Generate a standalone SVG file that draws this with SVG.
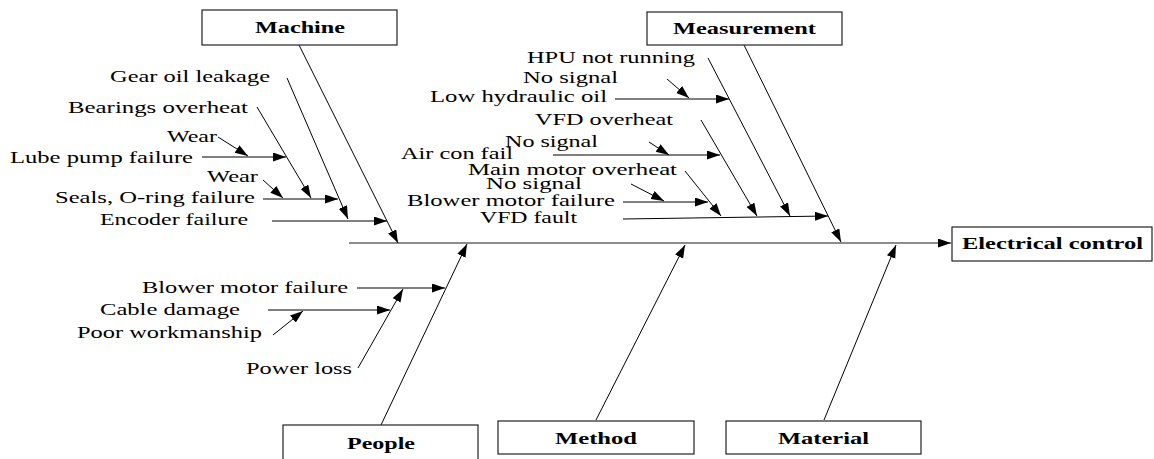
<svg xmlns="http://www.w3.org/2000/svg" width="1154" height="459" viewBox="0 0 1154 459">
<style>
text{font-family:"Liberation Serif","Times New Roman",serif;font-size:17px;fill:#000}
.b{font-weight:bold}
.box{fill:#fff;stroke:#222;stroke-width:1.2}
.c line{stroke:#000;stroke-width:1;marker-end:url(#ah)}
.c line.sp{stroke:#666;stroke-width:1.6}
</style>
<defs>
<marker id="ah" markerUnits="userSpaceOnUse" markerWidth="14" markerHeight="10" refX="13" refY="4.5" orient="auto">
<path d="M0,0 L13,4.5 L0,9 z" fill="#000"/>
</marker>
</defs>
<rect width="1154" height="459" fill="#fff"/>
<g id="connectors" class="c">
<line class="sp" x1="349" y1="243" x2="951" y2="243"/>
<line x1="299" y1="45" x2="398" y2="243"/>
<line x1="287" y1="78" x2="348" y2="219"/>
<line x1="257" y1="107" x2="311" y2="198"/>
<line x1="202" y1="157" x2="286" y2="157"/>
<line x1="218" y1="137" x2="248" y2="156"/>
<line x1="263" y1="199" x2="338" y2="199"/>
<line x1="263" y1="180" x2="283" y2="198"/>
<line x1="272" y1="221" x2="387" y2="221"/>
<line x1="744" y1="45" x2="841" y2="242"/>
<line x1="708" y1="58" x2="790" y2="216"/>
<line x1="623" y1="219" x2="828" y2="216"/>
<line x1="701" y1="120" x2="757" y2="216"/>
<line x1="685" y1="171" x2="721" y2="216"/>
<line x1="615" y1="99" x2="729" y2="99"/>
<line x1="667" y1="79" x2="689" y2="98"/>
<line x1="553" y1="155" x2="720" y2="155"/>
<line x1="649" y1="142" x2="669" y2="155"/>
<line x1="623" y1="202" x2="708" y2="202"/>
<line x1="631" y1="184" x2="664" y2="201"/>
<line x1="381" y1="425" x2="467" y2="244"/>
<line x1="357" y1="288" x2="445" y2="288"/>
<line x1="358" y1="368" x2="403" y2="289"/>
<line x1="268" y1="310" x2="390" y2="310"/>
<line x1="273" y1="335" x2="303" y2="311"/>
<line x1="596" y1="420" x2="685" y2="245"/>
<line x1="824" y1="420" x2="896" y2="245"/>
</g>
<g id="machine"><rect class="box" x="202" y="10" width="195" height="35"/><text class="b" x="255" y="33" textLength="90" lengthAdjust="spacingAndGlyphs">Machine</text></g>
<g id="measurement"><rect class="box" x="647" y="12" width="195" height="33"/><text class="b" x="673" y="34" textLength="143" lengthAdjust="spacingAndGlyphs">Measurement</text></g>
<g id="electrical-control"><rect class="box" x="952" y="227" width="200" height="34"/><text class="b" x="962" y="249" textLength="181" lengthAdjust="spacingAndGlyphs">Electrical control</text></g>
<g id="people"><rect class="box" x="283" y="425" width="195" height="45"/><text class="b" x="347" y="449" textLength="68" lengthAdjust="spacingAndGlyphs">People</text></g>
<g id="method"><rect class="box" x="498" y="421" width="196" height="33"/><text class="b" x="555" y="444" textLength="82" lengthAdjust="spacingAndGlyphs">Method</text></g>
<g id="material"><rect class="box" x="726" y="421" width="195" height="33"/><text class="b" x="778" y="444" textLength="91" lengthAdjust="spacingAndGlyphs">Material</text></g>
<g id="gear-oil-leakage"><text x="110" y="82" textLength="160" lengthAdjust="spacingAndGlyphs">Gear oil leakage</text></g>
<g id="bearings-overheat"><text x="68" y="113" textLength="180" lengthAdjust="spacingAndGlyphs">Bearings overheat</text></g>
<g id="wear-1"><text x="167" y="142" textLength="50" lengthAdjust="spacingAndGlyphs">Wear</text></g>
<g id="lube-pump-failure"><text x="10" y="163" textLength="183" lengthAdjust="spacingAndGlyphs">Lube pump failure</text></g>
<g id="wear-2"><text x="207" y="182" textLength="51" lengthAdjust="spacingAndGlyphs">Wear</text></g>
<g id="seals-failure"><text x="55" y="203" textLength="200" lengthAdjust="spacingAndGlyphs">Seals, O-ring failure</text></g>
<g id="encoder-failure"><text x="100" y="225" textLength="148" lengthAdjust="spacingAndGlyphs">Encoder failure</text></g>
<g id="hpu-not-running"><text x="527" y="63" textLength="168" lengthAdjust="spacingAndGlyphs">HPU not running</text></g>
<g id="no-signal-1"><text x="523" y="83" textLength="95" lengthAdjust="spacingAndGlyphs">No signal</text></g>
<g id="low-hydraulic-oil"><text x="430" y="102" textLength="177" lengthAdjust="spacingAndGlyphs">Low hydraulic oil</text></g>
<g id="vfd-overheat"><text x="535" y="125" textLength="138" lengthAdjust="spacingAndGlyphs">VFD overheat</text></g>
<g id="no-signal-2"><text x="505" y="147" textLength="93" lengthAdjust="spacingAndGlyphs">No signal</text></g>
<g id="air-con-fail"><text x="401" y="159" textLength="112" lengthAdjust="spacingAndGlyphs">Air con fail</text></g>
<g id="main-motor-overheat"><text x="468" y="175" textLength="209" lengthAdjust="spacingAndGlyphs">Main motor overheat</text></g>
<g id="no-signal-3"><text x="486" y="189" textLength="96" lengthAdjust="spacingAndGlyphs">No signal</text></g>
<g id="blower-motor-failure-1"><text x="407" y="206" textLength="208" lengthAdjust="spacingAndGlyphs">Blower motor failure</text></g>
<g id="vfd-fault"><text x="480" y="223" textLength="97" lengthAdjust="spacingAndGlyphs">VFD fault</text></g>
<g id="blower-motor-failure-2"><text x="142" y="293" textLength="206" lengthAdjust="spacingAndGlyphs">Blower motor failure</text></g>
<g id="cable-damage"><text x="100" y="315" textLength="140" lengthAdjust="spacingAndGlyphs">Cable damage</text></g>
<g id="poor-workmanship"><text x="77" y="338" textLength="185" lengthAdjust="spacingAndGlyphs">Poor workmanship</text></g>
<g id="power-loss"><text x="246" y="374" textLength="106" lengthAdjust="spacingAndGlyphs">Power loss</text></g>
</svg>
